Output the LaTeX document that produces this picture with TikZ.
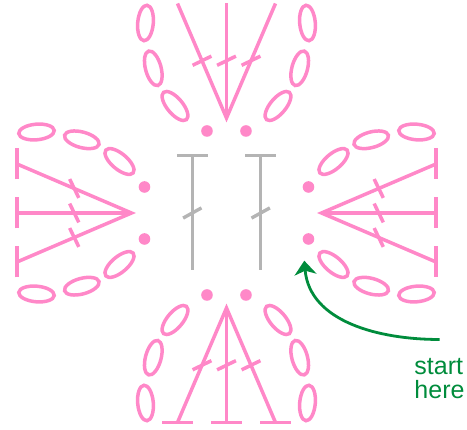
\documentclass[tikz,border=0pt]{standalone}
\usepackage{fontspec}
\setmainfont{Liberation Sans}
\usetikzlibrary{arrows.meta}

\definecolor{yarnpink}{RGB}{255,136,200}
\definecolor{yarngrey}{RGB}{180,180,180}
\definecolor{notegreen}{RGB}{0,140,60}

\tikzset{
	stitch/.style={draw=yarnpink, line width=3.5pt},
	slip/.style={fill=yarnpink},
	centre/.style={draw=yarngrey, line width=3.4pt},
	pointer/.style={draw=notegreen, line width=2.8pt, -{Stealth[length=14pt, width=22pt, inset=4pt]}}
}

\newcommand{\petal}[3]{%
	\begin{scope}[rotate=#1]
		\draw[stitch] (-49,209.5) -- (0,95) -- (49,209.5);
		\draw[stitch] (0,95) -- (0,209.5);
		\foreach \x in {-49,0,49}
			\draw[stitch] (\x/2,152.25) ++(206:10.5) -- ++(26:21);
		\ifnum#3=1
		\foreach \x in {-49,0,49}
			\draw[stitch] (\x-15.5,209.5) -- (\x+15.5,209.5);
		\fi
		\foreach \x/\y/\a in {-81/190/85, -73.2/144.7/105, -51.5/107/130, 81/190/95, 73.2/144.7/75, 51.5/107/50}
			\draw[stitch] (\x,\y) circle[x radius=17.8, y radius=7.8, rotate=\a];
		\fill[slip] (-#2,82) circle(5.8) (#2,82) circle(5.8);
	\end{scope}}

\begin{document}
\begin{tikzpicture}[x=1pt, y=1pt]
			\useasboundingbox (-226.5,-217) rectangle (240.5,213);
			\clip (-226.5,-217) rectangle (240.5,213);
			\petal{0}{19.5}{0}
			\petal{90}{26}{1}
			\petal{180}{19.5}{1}
			\petal{270}{26}{1}
			\foreach \x in {-34.2,34.2}{
				\draw[centre] (\x,-57) -- (\x,57.3);
				\draw[centre] (\x-15.5,57.3) -- (\x+15.5,57.3);
				\draw[centre] (\x,0) ++(209:10.5) -- ++(29:21);
			}
			\node[anchor=north west, inner sep=0, align=left, text=notegreen, font=\fontsize{25}{24}\selectfont] (note) at (187.8,-145.5) {start\\here};
			\coordinate (tip) at (77.8,-47.7);
			\draw[pointer] ([yshift=19pt]note.north) to[out=180, in=-85] (tip);
		\end{tikzpicture}
\end{document}
